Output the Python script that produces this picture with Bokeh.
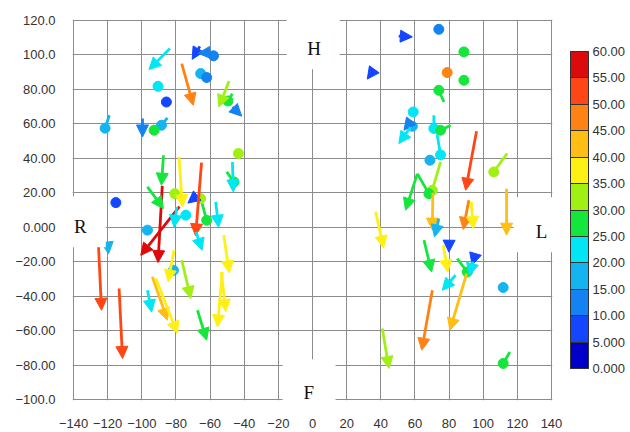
from bokeh.plotting import figure
from bokeh.models import (ColumnDataSource, Arrow, NormalHead, ColorBar, LinearColorMapper,
                          FixedTicker, Range1d)
from bokeh.core.properties import field, value
from bokeh.embed import file_html
from bokeh.resources import INLINE

# ---- data: vector tail / tip, value (0-60), head style ----
tail_x = [-83.5, -76.6, -66, -60, -58, -48.9, -47, -46.9, -99.6, -85, -119, -90.5, -85.6, -65.5, -62,
          -92.8, -43.4, -115.2, -96.7, -81.5, -80.7, -74.5, -65.5, -87.3, -88, -78, -78.2, -96.7, -68,
          -65, -65, -68.2, -56.7, -46.9, -50.3, -79.5, -125.5, -120, -113.3, -81.1, -76.6, -96.7, -93.8,
          -91.8, -67.4, -52, -52.8, -53.4,
          50.5, 74, 90.5, 78.9, 88.7, 59, 58.5, 68.8, 111.7, 77, 35, 58, 57.5, 71.1, 80.9, 73, 75, 61.4,
          61.4, 70.5, 74, 96.1, 91.6, 93, 113.7, 114, 37, 65.3, 80, 76.6, 84.8, 95, 94, 83.8, 90.3, 70.2,
          40.9, 115.6]
tail_y = [103.7, 95, 105, 101.5, 99.5, 84.9, 77.5, 69.8, 63.1, 63.5, 65, 84, 72.7, 89.2, 86.9,
          56.3, 42.8, 14.3, -1.7, -25, 19.5, 10, 16.6, 41.8, 24, 12, 40.8, 23.4, 18,
          15, 37.5, -2.7, 14.7, 37.9, 32.1, 11.8, -8, -11, -35.6, -13.4, -19.2, -36.6, -28.8,
          -29.8, -48.2, -4.6, -26, -26,
          111, 114.9, 102, 89.8, 85.3, 66.9, 58.6, 38.9, -32.5, 72.7, 90, 62, 58.2, 65, 59.2, 54, 37.9, 31,
          31, 20, 5, 55.7, 15.7, 14.7, 22.4, 42.8, 8.9, -7.5, -9, -10.4, -18.2, -17, -20, -27.9, -26.9, -36.6,
          -58.8, -72.4]
tip_x = [-95.8, -69.8, -70.5, -67, -58, -54.8, -49.5, -41.5, -99.6, -88.5, -121.5, -90.5, -85.6, -65.5, -62,
         -92.8, -43.4, -115.2, -96.7, -81.5, -80.7, -74.2, -65.5, -88.5, -90.5, -100.6, -76.2, -87.3, -73,
         -62, -68.5, -64.7, -55, -46.4, -46, -81.1, -123.6, -119.5, -111.3, -84.6, -71.3, -94.2, -85,
         -79.1, -62, -48.7, -55.7, -50.8,
         58.5, 74, 88.7, 78.9, 88.7, 59, 58.5, 68.8, 111.7, 74, 32.1, 53.6, 50.6, 71.1, 75, 75, 70.2, 54.5,
         68.2, 70.2, 71.5, 89.7, 88.3, 94.2, 113.7, 106.2, 41.7, 69.8, 79.9, 79.3, 90.7, 93.5, 92, 76, 80.5, 64,
         44.8, 111.7]
tip_y = [91.5, 70.8, 97.5, 101, 99.5, 69.8, 73.3, 64.5, 52.4, 59.2, 57.5, 81.8, 72.7, 89.2, 86.9,
         56.3, 42.8, 14.3, -1.7, -25, 19.5, 7, 16.6, 24.4, -20.5, -16.3, 11.8, 10.8, 14,
         4, -5, -13.4, 0, 20.5, 26.3, 0, -48.2, -15.5, -76.2, -31.7, -41.4, -49.2, -54,
         -61.7, -65.6, -26.5, -57.9, -49,
         110.5, 114.9, 101.8, 89.8, 85.3, 66.9, 58.6, 38.9, -35, 79.5, 86, 56.3, 48.6, 57.3, 56.3, 42, 21.5, 9.9,
         19.5, -1.7, -5.6, 21.5, -1.3, -0.8, -4.6, 32.1, -12, -26, -14.5, -26, -26, -22, -28, -36.6, -59.8, -71.4,
         -82, -79.1]
speed = [22, 47, 8, 10, 12, 32, 27, 12, 12, 17, 18, 22, 8, 18, 14,
         28, 31, 9, 17, 17, 33, 21, 32, 28, 57, 56, 37, 28, 6,
         28, 52, 22, 22, 22, 28, 22, 52, 16, 52, 37, 32, 22, 42,
         37, 27, 37, 38, 37,
         7, 13, 28, 47, 28, 22, 17, 17, 17, 28, 7, 12, 22, 22, 28, 22, 32, 28,
         28, 42, 17, 52, 47, 37, 42, 31, 37, 28, 6, 37, 28, 7, 22, 22, 42, 47,
         33, 28]
head = ["tri", "tri", "tri", "tri", "dot", "tri", "dot", "tri", "tri", "dot", "dot", "dot", "dot", "dot", "dot",
        "dot", "dot", "dot", "dot", "dot", "dot", "dot", "dot", "tri", "tri", "tri", "tri", "tri", "tri",
        "dot", "tri", "tri", "tri", "tri", "dot", "tri", "tri", "tri", "tri", "tri", "tri", "tri", "tri",
        "tri", "tri", "tri", "tri", "tri",
        "tri", "dot", "dot", "dot", "dot", "dot", "dot", "dot", "dot", "dot", "tri", "tri", "tri", "dot", "dot",
        "dot", "dot", "tri", "dot", "tri", "tri", "tri", "tri", "tri", "tri", "dot", "tri", "tri", "tri", "tri",
        "dot", "tri", "tri", "tri", "tri", "tri", "tri", "dot"]

palette = ["#0000c8", "#1446ff", "#1482f0", "#14b4f0", "#00e6f5", "#14e63c",
           "#a0f014", "#fff014", "#ffbe14", "#ff8214", "#ff4614", "#dc0a0a"]
cb_ticks = [0, 5, 10, 15, 20, 25, 30, 35, 40, 45, 50, 55, 60]
cb_labels = ["0.000", "5.000", "10.00", "15.00", "20.00", "25.00", "30.00",
             "35.00", "40.00", "45.00", "50.00", "55.00", "60.00"]
x_ticks = [-140, -120, -100, -80, -60, -40, -20, 0, 20, 40, 60, 80, 100, 120, 140]
x_labels = ["\u2212140", "\u2212120", "\u2212100", "\u221280", "\u221260", "\u221240", "\u221220",
            "0", "20", "40", "60", "80", "100", "120", "140"]
y_ticks = [-100, -80, -60, -40, -20, 0, 20, 40, 60, 80, 100, 120]
y_labels = ["\u2212100.0", "\u221280.00", "\u221260.00", "\u221240.00", "\u221220.00", "0.000",
            "20.00", "40.00", "60.00", "80.00", "100.0", "120.0"]
dir_labels = ["H", "F", "R", "L"]
dir_x = [1, -2.2, -136, 134.2]
dir_y = [103.9, -95.8, 0.2, -2.6]
box_left = [-15.1, -17.5, -150, 117.8]
box_right = [15.9, 13.5, -121.1, 150]
box_bottom = [91.7, -110, -11.6, -14.5]
box_top = [130, -76.6, 18, 17.4]


def colour(v):
    return palette[min(int(v // 5), len(palette) - 1)]


p = figure(frame_width=480, frame_height=381, output_backend="svg", toolbar_location=None,
           x_range=Range1d(-140.6, 140.6), y_range=Range1d(-100.6, 120.6),
           min_border_left=72, min_border_top=19, min_border_bottom=32, min_border_right=78,
           background_fill_color="white", border_fill_color="white")
p.outline_line_color = None

p.xaxis.ticker = FixedTicker(ticks=x_ticks)
p.yaxis.ticker = FixedTicker(ticks=y_ticks)
p.xaxis.major_label_overrides = {t: l for t, l in zip(x_ticks, x_labels)}
p.yaxis.major_label_overrides = {t: l for t, l in zip(y_ticks, y_labels)}
for ax in (p.xaxis, p.yaxis):
    ax.axis_line_color = None
    ax.major_tick_line_color = None
    ax.minor_tick_line_color = None
    ax.major_label_text_font = "Liberation Sans"
    ax.major_label_text_font_size = "13px"
    ax.major_label_text_color = "#333333"
p.xaxis.major_label_standoff = 12
p.yaxis.major_label_standoff = 11
p.grid.grid_line_color = "#8c8c8c"
p.grid.grid_line_width = 1

# split into dot-headed and triangle-headed vectors
dot_idx = [i for i, h in enumerate(head) if h == "dot"]
tri_idx = [i for i, h in enumerate(head) if h == "tri"]

dot_src = ColumnDataSource(dict(
    x0=[tail_x[i] for i in dot_idx], y0=[tail_y[i] for i in dot_idx],
    x1=[tip_x[i] for i in dot_idx], y1=[tip_y[i] for i in dot_idx],
    c=[colour(speed[i]) for i in dot_idx]))
tri_src = ColumnDataSource(dict(
    x0=[tail_x[i] for i in tri_idx], y0=[tail_y[i] for i in tri_idx],
    x1=[tip_x[i] for i in tri_idx], y1=[tip_y[i] for i in tri_idx],
    c=[colour(speed[i]) for i in tri_idx]))

p.segment("x0", "y0", "x1", "y1", source=dot_src, line_color="c", line_width=2.8)
p.scatter("x1", "y1", source=dot_src, size=10, fill_color="c", line_color="c")

arr = Arrow(source=tri_src, x_start="x0", y_start="y0", x_end="x1", y_end="y1",
            line_color=field("c"), line_width=2.8,
            end=NormalHead(size=12, fill_color=field("c"), line_color=field("c"), line_width=1))
p.add_layout(arr)

# white label boxes covering the grid, and the direction letters
bx = p.quad(left=box_left, right=box_right, bottom=box_bottom, top=box_top,
            fill_color="white", line_color=None)
bx.level = "overlay"
tx = p.text(x=dir_x, y=dir_y, text=dir_labels, text_font=value("Liberation Serif"),
            text_font_size="19px", text_align="center", text_baseline="middle", text_color="#111111")
tx.level = "overlay"

mapper = LinearColorMapper(palette=palette, low=0, high=60)
cb = ColorBar(color_mapper=mapper, width=18, height=317, location=(18, 32), padding=0, margin=0,
              ticker=FixedTicker(ticks=cb_ticks),
              major_label_overrides={t: l for t, l in zip(cb_ticks, cb_labels)},
              major_tick_in=18, major_tick_out=0, major_tick_line_color="#333333",
              bar_line_color="#333333", label_standoff=4,
              major_label_text_font="Liberation Sans", major_label_text_font_size="13px",
              major_label_text_color="#333333",
              background_fill_color=None, border_line_color=None)
p.add_layout(cb, "right")

open("out.html", "w").write(file_html(p, INLINE))
